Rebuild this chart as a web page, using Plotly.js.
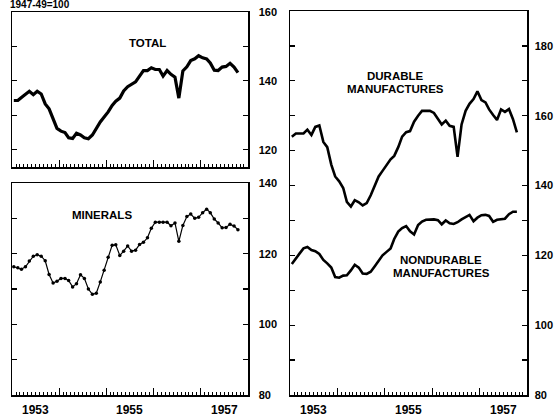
<!DOCTYPE html>
<html><head><meta charset="utf-8">
<script src="https://cdn.plot.ly/plotly-3.0.1.min.js"></script>
<style>html,body{margin:0;padding:0;background:#fff}#chart{width:554px;height:416px}</style>
</head><body><div id="chart"></div>
<script>
// Monthly index values, 1947-49=100, January 1953 through October 1957
const startYear = 1953;
const total = [134.3,134.3,135.2,136.2,137.0,136.0,137.0,136.2,133.3,131.9,129.0,126.2,
  125.4,125.0,123.5,123.3,124.8,124.3,123.5,123.2,124.3,126.2,128.1,129.5,
  131.0,132.9,134.1,135.0,137.1,138.3,139.0,139.7,141.4,143.0,143.0,143.8,
  143.3,143.3,141.4,143.0,141.9,141.1,135.0,142.9,144.1,145.9,146.4,147.3,
  146.7,146.4,145.2,143.1,143.0,144.0,144.2,145.1,144.0,142.4];
const minerals = [116.3,116.0,115.6,116.3,117.9,119.3,119.7,119.3,118.0,114.1,111.7,112.2,
  113.0,113.0,112.4,110.6,111.5,114.0,113.0,110.0,108.5,108.8,112.0,115.3,
  119.0,122.4,122.5,119.5,120.7,122.2,120.7,121.0,122.6,123.2,124.5,127.2,
  128.9,128.9,128.9,128.9,127.9,128.7,123.5,128.0,130.5,131.2,130.0,130.3,
  131.6,132.6,131.6,129.8,128.7,127.3,127.4,128.3,127.8,126.8];
const durable = [154.0,154.9,154.9,154.9,156.0,154.5,156.8,157.2,152.5,151.0,146.0,142.6,
  141.2,139.3,135.3,134.0,135.8,135.2,134.3,135.0,137.2,140.0,142.6,144.2,
  145.8,147.5,148.5,151.0,154.0,155.3,155.6,158.3,160.0,161.4,161.4,161.4,
  160.8,159.0,157.5,158.6,157.1,156.8,148.2,157.5,161.4,163.4,164.8,167.0,
  164.5,163.8,161.8,160.2,158.8,161.8,161.1,161.9,159.0,155.2];
const nondurable = [117.5,119.2,120.5,122.0,122.4,121.5,121.2,120.4,118.7,117.7,116.5,113.8,
  113.6,114.2,114.3,115.7,117.3,116.5,114.8,114.7,115.3,116.8,118.3,120.0,
  121.0,122.0,124.7,126.8,127.8,128.4,126.9,126.0,128.7,129.7,130.2,130.3,
  130.3,130.1,128.9,130.0,129.2,129.0,129.5,130.3,130.9,131.6,129.8,130.8,
  131.5,131.6,131.3,129.6,130.2,130.3,130.5,131.8,132.5,132.5];

const yearLabels = ['1953','1955','1957'];
const yearLabelDates = ['1953-07-01','1955-07-01','1957-07-01'];
const topLeftTicks = [120,130,140,150,160];
const topLeftTickText = ['120','','140','','160'];
const bottomLeftTicks = [80,90,100,110,120,130,140];
const bottomLeftTickText = ['80','','100','','120','','140'];
const rightTicks = [80,90,100,110,120,130,140,150,160,170,180];
const rightTickText = ['80','','100','','120','','140','','160','','180'];
const panelTitles = ['TOTAL','MINERALS','DURABLE','MANUFACTURES','NONDURABLE','MANUFACTURES'];
const unitNote = '1947-49=100';

const months = total.map((_, i) => {
  const y = startYear + Math.floor(i / 12);
  const m = (i % 12) + 1;
  return y + '-' + String(m).padStart(2, '0') + '-15';
});

const W = 554, H = 416;
const px = v => v / W;
const py = v => 1 - v / H;

const FONT = 'Liberation Sans, Arial, sans-serif';
const tickFont = {family: FONT, size: 11, color: '#000', weight: 'bold'};

function xAxis(domain, anchor) {
  return {
    type: 'date', range: ['1953-01-01', '1958-01-01'], domain: domain, anchor: anchor,
    showline: true, linecolor: '#000', linewidth: 1.5, mirror: true,
    ticks: 'inside', dtick: 'M12', tick0: '1953-01-01', ticklen: 7, tickwidth: 1, tickcolor: '#000',
    showticklabels: false, showgrid: false, zeroline: false,
    minor: {dtick: 'M1', tick0: '1953-01-01', ticks: 'inside', ticklen: 3, tickwidth: 1, tickcolor: '#000', showgrid: false}
  };
}
function yAxis(domain, anchor, range, vals, text, standoff) {
  return {
    domain: domain, anchor: anchor, range: range, side: 'right',
    showline: true, linecolor: '#000', linewidth: 1.5, mirror: 'ticks',
    ticks: 'inside', ticklen: 5, tickwidth: 1.2, tickcolor: '#000',
    tickmode: 'array', tickvals: vals, ticktext: text, tickfont: tickFont,
    ticklabelstandoff: standoff, showgrid: false, zeroline: false
  };
}

const traces = [
  {x: months, y: total, xaxis: 'x', yaxis: 'y', mode: 'lines', line: {color: '#000', width: 3.2}},
  {x: months, y: minerals, xaxis: 'x2', yaxis: 'y2', mode: 'lines+markers', line: {color: '#000', width: 1.2}, marker: {color: '#000', size: 3.5}},
  {x: months, y: durable, xaxis: 'x3', yaxis: 'y3', mode: 'lines', line: {color: '#000', width: 2.6}},
  {x: months, y: nondurable, xaxis: 'x3', yaxis: 'y3', mode: 'lines', line: {color: '#000', width: 2.6}}
];

const titleFont = {family: FONT, size: 11.5, color: '#000', weight: 'bold'};
function note(text, x, y) {
  return {text: text, xref: 'paper', yref: 'paper', x: px(x), y: py(y), xanchor: 'center', yanchor: 'middle', showarrow: false, font: titleFont};
}
const yearFont = {family: FONT, size: 12, color: '#000', weight: 'bold'};
const yearNotes = [];
['x2', 'x3'].forEach(ax => {
  yearLabels.forEach((t, i) => {
    yearNotes.push({text: t, xref: ax, yref: 'paper', x: yearLabelDates[i], y: py(410), xanchor: 'center', yanchor: 'middle', showarrow: false, font: yearFont});
  });
});

const layout = {
  width: W, height: H, margin: {l: 0, r: 0, t: 0, b: 0},
  paper_bgcolor: '#fff', plot_bgcolor: '#fff', showlegend: false,
  xaxis: xAxis([px(12), px(248)], 'y'),
  yaxis: yAxis([py(167), py(12)], 'x', [115, 160], topLeftTicks, topLeftTickText, 7),
  xaxis2: xAxis([px(12), px(248)], 'y2'),
  yaxis2: yAxis([py(395), py(183)], 'x2', [80, 140], bottomLeftTicks, bottomLeftTickText, 7),
  xaxis3: xAxis([px(290), px(527)], 'y3'),
  yaxis3: yAxis([py(395), py(11)], 'x3', [80, 190], rightTicks, rightTickText, 4),
  annotations: [
    note(panelTitles[0], 147, 43),
    note(panelTitles[1], 102, 215),
    note(panelTitles[2], 395, 76),
    note(panelTitles[3], 395, 89),
    note(panelTitles[4], 441, 260),
    note(panelTitles[5], 441, 273),
    {text: unitNote, xref: 'paper', yref: 'paper', x: px(9), y: py(5), xanchor: 'left', yanchor: 'middle', showarrow: false,
     borderpad: 0, font: {family: FONT, size: 10, color: '#000', weight: 'bold'}}
  ].concat(yearNotes)
};

Plotly.newPlot('chart', traces, layout, {staticPlot: true, displayModeBar: false});
</script>
</body></html>
